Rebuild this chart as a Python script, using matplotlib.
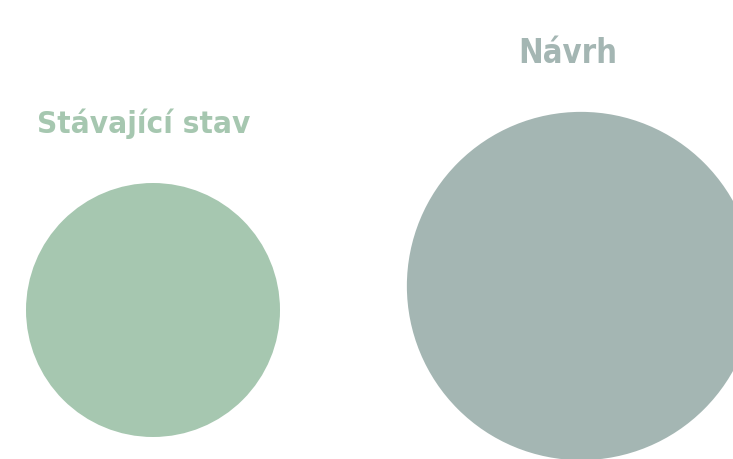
import matplotlib
matplotlib.use('Agg')
import matplotlib.pyplot as plt
from matplotlib.patches import Circle
import numpy as np

# data
labels = ['Stávající stav', 'Návrh']
values = [1.0, 1.88]          # relative size (area)
colors = ['#a6c7b0', '#a4b6b3']

# layout in pixel units (y downwards)
centers_x = [153, 581]
centers_y = [310, 286]
base_r = 127
label_x = [144, 568]
label_y = [133, 63]
label_size = [22.5, 23.5]

fig = plt.figure(figsize=(7.33, 4.59), dpi=100)
ax = fig.add_axes([0, 0, 1, 1])
ax.set_xlim(0, 733)
ax.set_ylim(459, 0)
ax.set_aspect('equal')
ax.axis('off')

for i in range(len(values)):
    r = base_r * np.sqrt(values[i] / values[0])
    ax.add_patch(Circle((centers_x[i], centers_y[i]), r, color=colors[i], lw=0))
    ax.text(label_x[i], label_y[i], labels[i], color=colors[i], fontsize=label_size[i],
            fontweight='bold', fontstretch='condensed', family='DejaVu Sans',
            ha='center', va='baseline')

fig.savefig('out.png', dpi=100)
